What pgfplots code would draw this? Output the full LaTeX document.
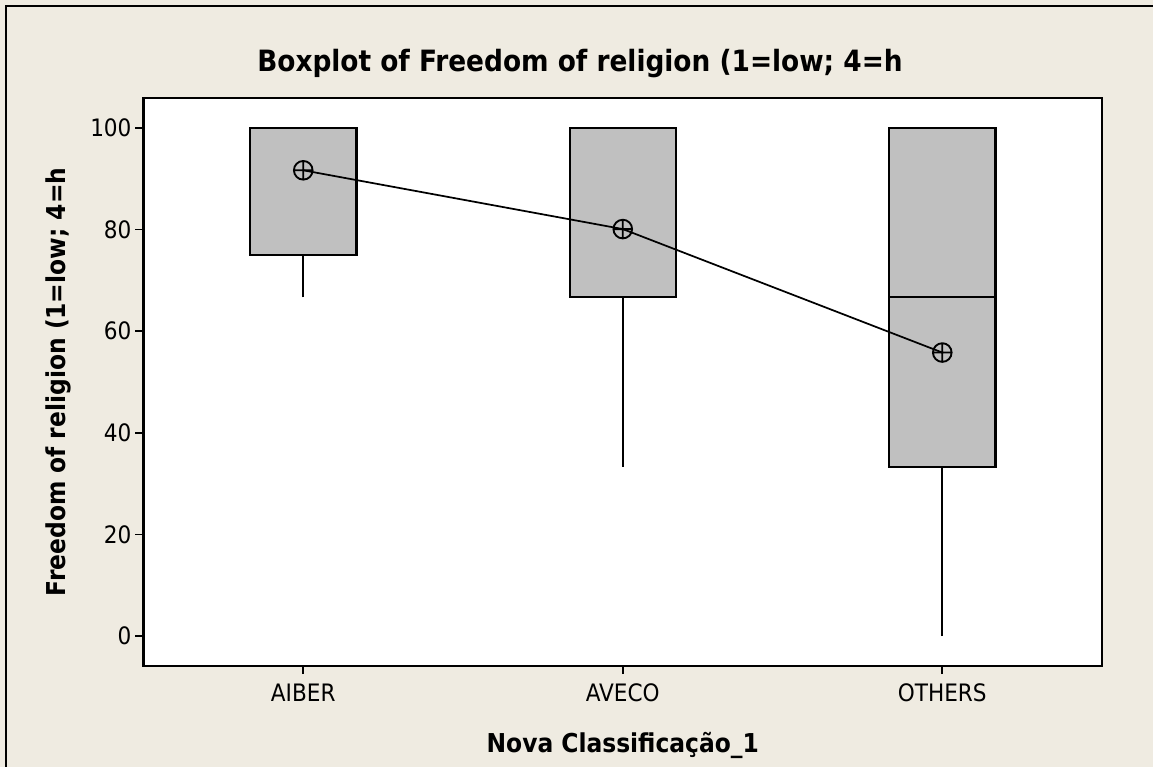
\documentclass[border=0pt]{standalone}
\usepackage{pgfplots}
\pgfplotsset{compat=1.18}
\usepackage{fontspec}
\setmainfont{DejaVu Sans Condensed}
\definecolor{bg}{RGB}{239,235,225}
\definecolor{boxgray}{RGB}{192,192,192}
\begin{document}
\begin{tikzpicture}
\useasboundingbox (0pt,0pt) rectangle (864.75pt,-575.25pt);
\fill[bg] (0pt,0pt) rectangle (864.75pt,-575.25pt);
\draw[black,line width=1.5pt] (4.5pt,-575.25pt) -- (4.5pt,-4.5pt) -- (864.75pt,-4.5pt);
\node[anchor=base,font=\bfseries\fontsize{22}{26}\selectfont] at (435pt,-54pt) {Boxplot of Freedom of religion (1=low; 4=h};
\begin{axis}[
  at={(107.625pt,-499.5pt)}, anchor=south west,
  scale only axis, width=718.9pt, height=426pt,
  xmin=0.5, xmax=3.5, ymin=-5.9, ymax=105.9,
  axis background/.style={fill=white},
  axis line style={line width=1.6pt},
  tick align=outside, tick pos=left, major tick length=6pt,
  every tick/.style={black, line width=1.3pt},
  xtick={1,2,3}, xticklabels={AIBER,AVECO,OTHERS},
  ytick={0,20,40,60,80,100},
  tick label style={font=\fontsize{18}{21}\selectfont},
  yticklabel style={xshift=0.5pt},
  xticklabel style={yshift=-4pt},
  /pgf/number format/assume math mode=true,
  xlabel={Nova Classificação\_1},
  ylabel={Freedom of religion (1=low; 4=h},
  label style={font=\bfseries\fontsize{19.5}{22}\selectfont},
  xlabel style={at={(axis description cs:0.5,-0.1514)}, anchor=base},
  ylabel style={at={(axis description cs:-0.0819,0.5)}, anchor=base},
]
% whiskers
\addplot[black, line width=1.3pt] coordinates {(1,66.67) (1,75)};
\addplot[black, line width=1.3pt] coordinates {(2,33.33) (2,66.67)};
\addplot[black, line width=1.3pt] coordinates {(3,0) (3,33.33)};
% boxes (Q1 to Q3)
\addplot[draw=black, fill=boxgray, line width=1.6pt] coordinates {(0.8335,75) (1.1665,75) (1.1665,100) (0.8335,100)} -- cycle;
\addplot[draw=black, fill=boxgray, line width=1.6pt] coordinates {(1.8335,66.67) (2.1665,66.67) (2.1665,100) (1.8335,100)} -- cycle;
\addplot[draw=black, fill=boxgray, line width=1.6pt] coordinates {(2.8335,33.33) (3.1665,33.33) (3.1665,100) (2.8335,100)} -- cycle;
% medians
\addplot[black, line width=1.5pt] coordinates {(0.8335,100) (1.1665,100)};
\addplot[black, line width=1.5pt] coordinates {(1.8335,100) (2.1665,100)};
\addplot[black, line width=1.5pt] coordinates {(2.8335,66.67) (3.1665,66.67)};
% means
\addplot[black, line width=1.3pt, mark=oplus, mark size=7pt, mark options={line width=1.4pt, solid}] coordinates {(1,91.67) (2,80.1) (3,55.8)};
\end{axis}
\end{tikzpicture}
\end{document}
